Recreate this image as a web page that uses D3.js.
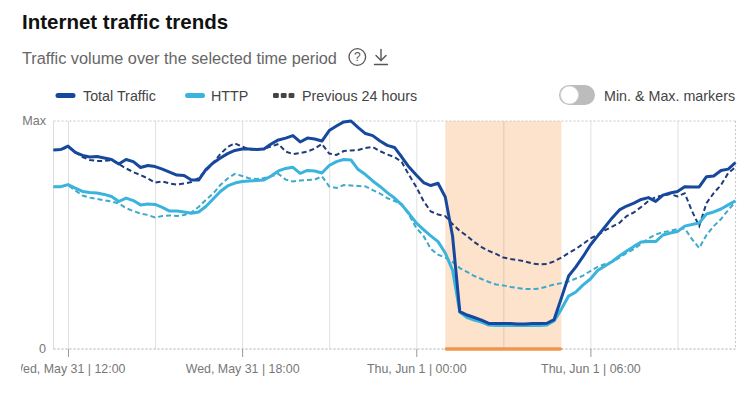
<!DOCTYPE html>
<html><head><meta charset="utf-8">
<script src="https://cdn.jsdelivr.net/npm/d3@7"></script>
<style>
html,body{margin:0;padding:0;background:#fff;}
svg{display:block;font-family:"Liberation Sans",Arial,sans-serif;}
</style></head>
<body><svg id="chart" width="753" height="394"></svg>
<script>
// ---------- data ----------
const startTime = new Date(2023, 4, 31, 11, 30);   // first sample, 15-minute steps
const stepMinutes = 15;
const totalTraffic = [87.3,87.5,89.0,86.2,84.9,84.2,84.4,83.8,83.1,81.1,83.1,82.2,79.6,80.5,80.0,78.9,77.6,76.3,76.1,74.1,74.1,78.7,81.6,83.8,85.7,87.1,87.7,87.7,87.5,87.7,89.9,91.7,92.5,93.6,90.8,92.5,92.1,91.2,95.8,97.8,99.6,100,97.1,94.5,93.6,91.2,89.3,88.4,84.2,79.8,76.3,73.0,71.7,72.7,66.7,49.6,16.4,14.9,13.8,12.7,11.2,11.2,11.2,11.2,11.0,11.0,11.2,11.2,11.3,12.9,22.4,32.0,36.0,40.6,45.6,49.6,53.5,57.5,61.0,62.7,64.0,65.6,66.4,64.7,67.5,68.4,69.1,71.2,71.1,71.1,75.6,75.9,78.3,78.9,81.8];
const httpTraffic = [71.2,71.2,72.1,70.6,69.1,68.6,68.4,67.8,66.9,64.7,66.2,65.1,63.2,63.6,63.4,62.1,60.5,60.5,60.1,59.5,60.1,62.5,65.8,69.1,71.5,72.8,73.5,73.7,73.9,74.1,75.9,78.1,79.2,79.7,77.0,78.3,78.1,77.2,80.5,82.2,83.1,82.9,78.7,76.5,73.7,71.3,68.6,66.2,63.2,59.4,55.3,52.4,49.6,47.1,42.1,34.6,16.2,13.8,12.7,11.8,10.5,10.3,10.3,10.3,10.3,10.3,10.3,10.3,10.5,12.3,17.5,23.2,25.0,28.1,30.7,34.4,36.4,38.4,40.8,43.0,45.0,46.9,47.1,47.1,50.0,50.9,51.5,53.9,54.6,55.3,59.2,60.1,61.4,63.2,65.0];
const prevTotal = [87.3,87.3,88.6,86.4,84.2,82.9,82.5,82.5,82.9,81.1,79.2,77.6,76.3,74.8,73.0,73.5,72.6,72.1,72.6,73.2,75.0,78.1,81.6,85.5,88.6,90.2,88.8,87.5,87.5,87.9,88.8,89.9,86.6,85.5,86.0,86.6,87.9,89.9,85.7,85.1,86.8,87.1,87.3,88.2,88.6,86.8,85.3,84.2,82.0,76.3,71.1,64.9,60.3,59.0,58.3,54.8,51.8,49.6,46.9,44.7,43.0,41.7,40.1,39.5,39.0,38.4,37.5,37.1,37.3,38.4,40.1,42.1,43.9,46.1,48.5,50.0,52.0,53.7,55.3,58.3,59.9,62.3,64.9,66.7,67.3,68.0,66.9,68.3,60.5,53.9,64.0,68.4,71.9,77.2,79.7];
const prevHttp = [71.2,71.2,71.9,69.5,67.3,66.4,65.8,65.2,64.7,63.8,61.8,60.5,59.4,58.8,57.7,58.3,58.6,58.3,58.8,59.9,62.3,65.4,68.2,71.9,74.8,76.8,75.9,74.8,74.6,75.0,75.7,76.8,74.3,73.5,73.9,74.1,74.3,75.7,71.3,70.6,71.9,71.7,71.5,71.3,69.7,68.2,66.2,64.9,63.6,58.8,53.1,49.6,43.9,41.4,40.1,38.2,35.5,33.8,32.0,30.7,29.4,28.3,27.9,27.2,26.8,26.3,26.3,26.5,27.4,28.3,28.9,29.6,30.9,32.2,34.2,36.0,37.3,38.2,40.1,42.1,43.9,46.1,48.5,50.2,51.3,51.8,52.6,52.9,48.2,44.3,50.0,53.9,57.0,61.0,64.6];
const outageStart = new Date(2023, 5, 1, 1, 0);
const outageEnd = new Date(2023, 5, 1, 5, 0);
const yTickValues = [0, 100];
const yTickLabels = ["0", "Max"];
const legendLabels = ["Total Traffic", "HTTP", "Previous 24 hours"];
const titleText = "Internet traffic trends";
const subtitleText = "Traffic volume over the selected time period";
const toggleLabel = "Min. & Max. markers";

// ---------- setup ----------
const svg = d3.select("#chart");
const W = 753, H = 394;
const plot = {left: 53.5, right: 735.5, top: 121, bottom: 349};
const times = totalTraffic.map((_, i) => new Date(startTime.getTime() + i * stepMinutes * 60000));
const x = d3.scaleTime().domain([times[0], times[times.length - 1]]).range([plot.left, plot.right]);
const y = d3.scaleLinear().domain([0, 100]).range([plot.bottom, plot.top]);

const C = {total: "#16489e", http: "#3ab4dc", prevTotal: "#1e3c78", prevHttp: "#3fa9cc"};

svg.append("rect").attr("width", W).attr("height", H).attr("fill", "#fff");

// title & subtitle
svg.append("text").attr("x", 22).attr("y", 29).attr("font-size", 20.5).attr("font-weight", "bold")
  .attr("fill", "#111").text(titleText);
svg.append("text").attr("x", 22).attr("y", 63.5).attr("font-size", 16.3).attr("fill", "#666").text(subtitleText);
// help icon
svg.append("circle").attr("cx", 357.3).attr("cy", 57).attr("r", 8.3).attr("fill", "none").attr("stroke", "#555").attr("stroke-width", 1.3);
svg.append("text").attr("x", 357.3).attr("y", 61.3).attr("text-anchor", "middle").attr("font-size", 12).attr("fill", "#555").text("?");
// download icon
const dl = svg.append("g").attr("stroke", "#555").attr("stroke-width", 1.4).attr("fill", "none").attr("stroke-linecap", "round");
dl.append("line").attr("x1", 381).attr("x2", 381).attr("y1", 49.5).attr("y2", 60.5);
dl.append("polyline").attr("points", "376,55.5 381,60.5 386,55.5");
dl.append("line").attr("x1", 374.5).attr("x2", 387.5).attr("y1", 64.5).attr("y2", 64.5);

// legend
const legY = 95.5;
const lg = svg.append("g").attr("font-size", 14.3).attr("fill", "#444");
lg.append("line").attr("x1", 58).attr("x2", 73).attr("y1", legY).attr("y2", legY).attr("stroke", C.total).attr("stroke-width", 5).attr("stroke-linecap", "round");
lg.append("text").attr("x", 83).attr("y", legY + 5).text(legendLabels[0]);
lg.append("line").attr("x1", 187.5).attr("x2", 202.5).attr("y1", legY).attr("y2", legY).attr("stroke", C.http).attr("stroke-width", 5).attr("stroke-linecap", "round");
lg.append("text").attr("x", 211).attr("y", legY + 5).text(legendLabels[1]);
[0, 1, 2].forEach(i => lg.append("rect").attr("x", 273 + i * 7.8).attr("y", legY - 2.5).attr("width", 5.8).attr("height", 5).attr("rx", 1.2).attr("fill", "#444"));
lg.append("text").attr("x", 302).attr("y", legY + 5).text(legendLabels[2]);
// toggle
svg.append("rect").attr("x", 559).attr("y", 85).attr("width", 36).attr("height", 20).attr("rx", 10).attr("fill", "#bcbcbc");
svg.append("circle").attr("cx", 569.5).attr("cy", 95).attr("r", 9).attr("fill", "#fff").attr("stroke", "#d6d6d6").attr("stroke-width", 0.8);
svg.append("text").attr("x", 604).attr("y", legY + 5).attr("font-size", 14.3).attr("fill", "#444").text(toggleLabel);

// outage highlight
svg.append("rect").attr("x", x(outageStart)).attr("y", plot.top).attr("width", x(outageEnd) - x(outageStart))
  .attr("height", plot.bottom - plot.top).attr("fill", "#fde2cc");

// gridlines every 3 hours
const grid = svg.append("g").attr("transform", `translate(0,${plot.bottom})`)
  .call(d3.axisBottom(x).ticks(d3.timeHour.every(3)).tickSize(-(plot.bottom - plot.top)).tickFormat(""));
grid.select(".domain").remove();
grid.selectAll(".tick line").attr("stroke", "#000").attr("stroke-opacity", 0.12).attr("stroke-width", 1);

// frame (dotted)
const frame = svg.append("g").attr("stroke", "#c8c8c8").attr("stroke-width", 1).attr("stroke-dasharray", "2,2").attr("fill", "none");
frame.append("line").attr("x1", plot.left).attr("x2", plot.right).attr("y1", plot.top).attr("y2", plot.top);
frame.append("line").attr("x1", plot.left).attr("x2", plot.right).attr("y1", plot.bottom).attr("y2", plot.bottom).attr("stroke", "#aaa");
frame.append("line").attr("x1", plot.right).attr("x2", plot.right).attr("y1", plot.top).attr("y2", plot.bottom);
svg.append("line").attr("x1", plot.left).attr("x2", plot.left).attr("y1", plot.top).attr("y2", plot.bottom).attr("stroke", "#ddd");

// x axis (labelled every 6 hours)
svg.append("defs").append("clipPath").attr("id", "xclip").append("rect").attr("x", 21).attr("y", 340).attr("width", 735).attr("height", 54);
const xWrap = svg.append("g").attr("clip-path", "url(#xclip)");
const xa = xWrap.append("g").attr("transform", `translate(0,${plot.bottom})`)
  .call(d3.axisBottom(x).ticks(d3.timeHour.every(6)).tickSize(8).tickPadding(7).tickFormat(d3.timeFormat("%a, %b %-d | %H:%M")));
xa.select(".domain").remove();
xa.selectAll(".tick line").attr("stroke", "#999");
xa.selectAll(".tick text").attr("font-size", 12.4).attr("fill", "#777").attr("font-family", "Liberation Sans, Arial, sans-serif");

// y labels
svg.append("g").selectAll("text").data(yTickValues).join("text")
  .attr("x", 46).attr("y", d => y(d) + 4).attr("text-anchor", "end").attr("font-size", 12.6).attr("fill", "#777")
  .text((d, i) => yTickLabels[i]);

// outage bar
svg.append("line").attr("x1", x(outageStart) + 1).attr("x2", x(outageEnd) - 1).attr("y1", plot.bottom).attr("y2", plot.bottom)
  .attr("stroke", "#f0974f").attr("stroke-width", 3.5).attr("stroke-linecap", "round");

// lines
const line = d3.line().x((d, i) => x(times[i])).y(d => y(d)).curve(d3.curveLinear);
svg.append("path").datum(prevHttp).attr("d", line).attr("fill", "none").attr("stroke", C.prevHttp).attr("stroke-width", 2).attr("stroke-dasharray", "5,3");
svg.append("path").datum(prevTotal).attr("d", line).attr("fill", "none").attr("stroke", C.prevTotal).attr("stroke-width", 2).attr("stroke-dasharray", "5,3");
svg.append("path").datum(httpTraffic).attr("d", line).attr("fill", "none").attr("stroke", C.http).attr("stroke-width", 3).attr("stroke-linejoin", "round");
svg.append("path").datum(totalTraffic).attr("d", line).attr("fill", "none").attr("stroke", C.total).attr("stroke-width", 3).attr("stroke-linejoin", "round");
</script></body></html>
